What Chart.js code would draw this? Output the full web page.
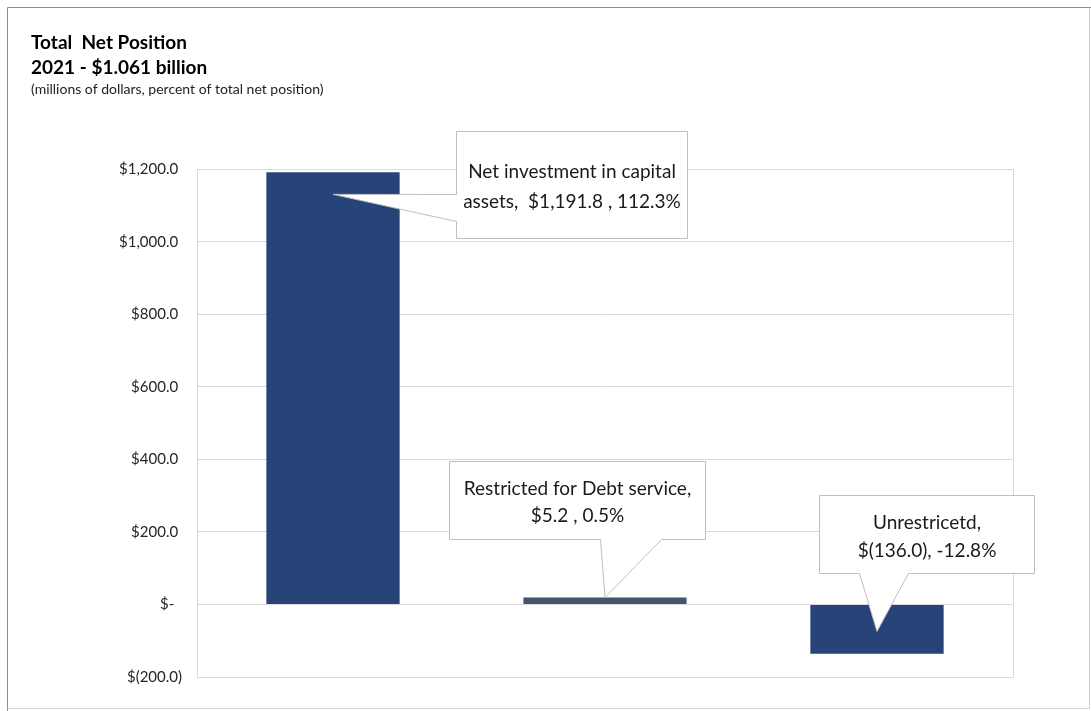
<!DOCTYPE html>
<html>
<head>
<meta charset="utf-8">
<script src="https://cdn.jsdelivr.net/npm/chart.js@4.4.1/dist/chart.umd.min.js"></script>
<style>
    html, body { margin: 0; padding: 0; background: #fff; }
    #wrap { position: relative; width: 1091px; height: 711px; }
</style>
</head>
<body>
<div id="wrap"><canvas id="netPositionChart" width="1091" height="711"></canvas></div>
<script>
// Net position components (millions of dollars) and share of total
const categories = ['Net investment in capital assets', 'Restricted for Debt service', 'Unrestricetd'];
const amounts = [1191.8, 5.2, -136.0];
const percents = [112.3, 0.5, -12.8];
const yTicks = [-200, 0, 200, 400, 600, 800, 1000, 1200];

const FONT = 'Lato, "Open Sans", sans-serif';
const barColors = ['#264478', '#44546a', '#264478'];
const barWidths = [0.49, 0.60, 0.49];

function fmtNum(v) {
    return Math.abs(v).toLocaleString('en-US', { minimumFractionDigits: 1, maximumFractionDigits: 1 });
}
function money(v) {
    return v < 0 ? '$(' + fmtNum(v) + ')' : '$' + fmtNum(v);
}

// texto dos balões
const calloutText = [
    ['Net investment in capital', 'assets,  ' + money(amounts[0]) + ' , ' + percents[0] + '%'],
    ['Restricted for Debt service,', money(amounts[1]) + ' , ' + percents[1] + '%'],
    ['Unrestricetd,', money(amounts[2]) + ', ' + percents[2] + '%']
];

// balão: deslocamento em relação à ponta, tamanho, lado da seta
const calloutLayout = [
    { tip: 'top', tipDy: 22, side: 'left', dx: 123, dy: -63, w: 231, h: 107, base: [63, 90], lh: 30 },
    { tip: 'top', tipDy: 0, side: 'bottom', dx: -156, dy: -136, w: 256, h: 78, base: [151, 212], lh: 27 },
    { tip: 'mid', tipDy: 2, side: 'bottom', dx: -58, dy: -136, w: 215, h: 78, base: [40, 89], lh: 28 }
];

const framePlugin = {
    id: 'frame',
    beforeDraw(chart) {
        const ctx = chart.ctx;
        ctx.save();
        ctx.fillStyle = '#fff';
        ctx.fillRect(0, 0, chart.width, chart.height);
        ctx.lineWidth = 1;
        ctx.strokeStyle = '#8c8c8c';
        ctx.beginPath();
        ctx.moveTo(7.5, chart.height);
        ctx.lineTo(7.5, 7.5);
        ctx.lineTo(chart.width, 7.5);
        ctx.stroke();
        ctx.strokeStyle = '#d0d0d0';
        ctx.beginPath();
        ctx.moveTo(1089.5, 7.5);
        ctx.lineTo(1089.5, 708.5);
        ctx.lineTo(7.5, 708.5);
        ctx.stroke();
        ctx.restore();
    },
    beforeDatasetsDraw(chart) {
        const a = chart.chartArea;
        const ctx = chart.ctx;
        ctx.save();
        ctx.strokeStyle = '#d9d9d9';
        ctx.lineWidth = 1;
        ctx.strokeRect(Math.round(a.left) + 0.5, Math.round(a.top) + 0.5,
            Math.round(a.right - a.left), Math.round(a.bottom - a.top));
        ctx.restore();
    }
};

const calloutPlugin = {
    id: 'callouts',
    afterDatasetsDraw(chart) {
        const ctx = chart.ctx;
        ctx.save();
        calloutLayout.forEach((c, i) => {
            const bar = chart.getDatasetMeta(i).data[i];
            const tx = bar.x;
            const ty = (c.tip === 'mid' ? (bar.y + bar.base) / 2 : bar.y) + c.tipDy;
            const L = Math.round(tx + c.dx) + 0.5;
            const T = Math.round(ty + c.dy) + 0.5;
            const R = L + c.w, B = T + c.h;

            ctx.beginPath();
            ctx.moveTo(L, T);
            ctx.lineTo(R, T);
            ctx.lineTo(R, B);
            if (c.side === 'bottom') {
                ctx.lineTo(L + c.base[1], B);
                ctx.lineTo(tx, ty);
                ctx.lineTo(L + c.base[0], B);
                ctx.lineTo(L, B);
                ctx.closePath();
            } else {
                ctx.lineTo(L, B);
                ctx.lineTo(L, T + c.base[1]);
                ctx.lineTo(tx, ty);
                ctx.lineTo(L, T + c.base[0]);
                ctx.closePath();
            }
            ctx.fillStyle = '#fff';
            ctx.fill();
            ctx.strokeStyle = '#bfbfbf';
            ctx.lineWidth = 1;
            ctx.stroke();

            ctx.fillStyle = '#1a1a1a';
            ctx.font = '19px ' + FONT;
            ctx.textAlign = 'center';
            ctx.textBaseline = 'middle';
            const lines = calloutText[i];
            const cy = (T + B) / 2 + 2 - (lines.length - 1) * c.lh / 2;
            lines.forEach((s, k) => ctx.fillText(s, (L + R) / 2, cy + k * c.lh));
        });
        ctx.restore();
    }
};

new Chart(document.getElementById('netPositionChart'), {
    type: 'bar',
    data: {
        labels: categories,
        datasets: amounts.map((v, i) => ({
            label: categories[i],
            data: amounts.map((a, j) => (j === i ? a : null)),
            backgroundColor: barColors[i],
            barPercentage: barWidths[i],
            categoryPercentage: 1,
            grouped: false,
            minBarLength: i === 1 ? 7 : 0
        }))
    },
    options: {
        responsive: false,
        animation: false,
        layout: { padding: { left: 31, right: 78, top: 17, bottom: 34 } },
        plugins: {
            legend: { display: false },
            tooltip: { enabled: false },
            title: {
                display: true,
                text: ['Total  Net Position', '2021 - $1.061 billion'],
                align: 'start',
                color: '#000',
                font: { family: FONT, size: 19, weight: 'bold', lineHeight: 25 / 19 },
                padding: { top: 13, bottom: 0 }
            },
            subtitle: {
                display: true,
                text: '(millions of dollars, percent of total net position)',
                align: 'start',
                color: '#222',
                font: { family: FONT, size: 14, lineHeight: 1.2 },
                padding: { top: 1, bottom: 71.6 }
            }
        },
        scales: {
            x: { display: false },
            y: {
                min: yTicks[0],
                max: yTicks[yTicks.length - 1],
                afterBuildTicks(scale) {
                    scale.ticks = yTicks.map(v => ({ value: v }));
                },
                afterFit(scale) { scale.width = 166; },
                ticks: {
                    padding: 15,
                    color: '#262626',
                    font: { family: FONT, size: 15 },
                    callback(v) {
                        if (v === 0) return '$-  ';
                        return v < 0 ? money(v) : money(v) + ' ';
                    }
                },
                grid: { color: '#d9d9d9', drawTicks: false },
                border: { display: true, color: '#d9d9d9' }
            }
        }
    },
    plugins: [framePlugin, calloutPlugin]
});
</script>
</body>
</html>
